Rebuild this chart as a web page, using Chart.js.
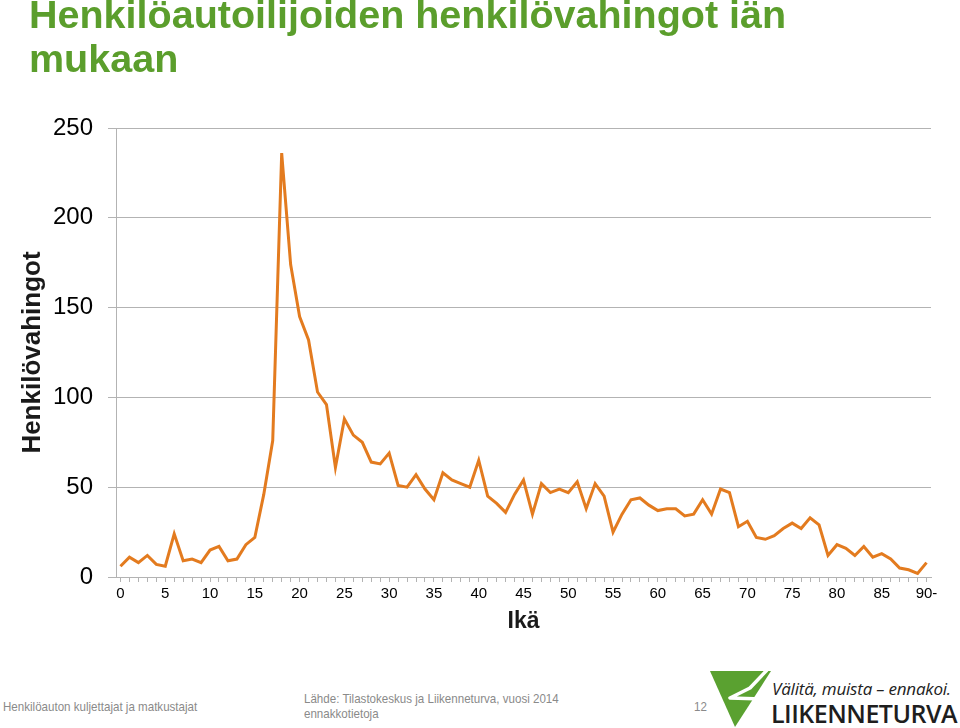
<!DOCTYPE html>
<html lang="fi">
  <head>
    <meta charset="UTF-8" />
    <title>Henkilöautoilijoiden henkilövahingot iän mukaan</title>
    <style>
      body {
        margin: 0;
        width: 960px;
        height: 728px;
        position: relative;
        overflow: hidden;
        background: #fff;
        font-family: Arial, "Liberation Sans", sans-serif;
      }
      h1 {
        position: absolute;
        left: 29px;
        top: -8px;
        width: 820px;
        margin: 0;
        font-size: 39.5px;
        line-height: 44px;
        font-weight: bold;
        color: #5b9e2c;
        z-index: 2;
      }
      #chartBox {
        position: absolute;
        left: 0;
        top: 0;
      }
      .foot {
        position: absolute;
        color: #8a8a8a;
        font-size: 13px;
        line-height: 15px;
        white-space: nowrap;
        transform: scaleX(0.89);
        transform-origin: left top;
      }
      .slogan {
        position: absolute;
        left: 772px;
        top: 677px;
        font-family: "Open Sans", Arial, sans-serif;
        font-style: italic;
        font-size: 17px;
        letter-spacing: -0.2px;
        color: #222;
        white-space: nowrap;
      }
      .brand {
        position: absolute;
        left: 771px;
        top: 696px;
        font-family: "Open Sans", Arial, sans-serif;
        font-size: 25px;
        font-weight: 600;
        letter-spacing: -0.5px;
        color: #1e1e1e;
        white-space: nowrap;
      }
    </style>
  </head>
  <body>
    <h1>Henkilöautoilijoiden henkilövahingot iän mukaan</h1>
    <div id="chartBox">
      <canvas id="injuryChart" width="960" height="660"></canvas>
    </div>

    <div class="foot" style="left: 3px; top: 699px">Henkilöauton kuljettajat ja matkustajat</div>
    <div class="foot" style="left: 304px; top: 691px">Lähde: Tilastokeskus ja Liikenneturva, vuosi 2014<br />ennakkotietoja</div>
    <div class="foot" style="left: 694px; top: 699px">12</div>

    <svg style="position: absolute; left: 708px; top: 670px" width="66" height="58">
      <polygon points="2,1 63,1 27,57" fill="#5aa130" />
      <polyline points="59,0 42,18 22,28 54,29" fill="none" stroke="#fff" stroke-width="3.5" stroke-linejoin="round" />
    </svg>
    <div class="slogan">Välitä, muista – ennakoi.</div>
    <div class="brand">LIIKENNETURVA</div>

    <script src="https://cdn.jsdelivr.net/npm/chart.js"></script>
    <script>
      const ages = [];
      for (let a = 0; a < 90; a++) ages.push(String(a));
      ages.push("90-");

      const injuries = [
        6, 11, 8, 12, 7, 6, 24, 9, 10, 8,
        15, 17, 9, 10, 18, 22, 46, 76, 236, 174,
        145, 132, 103, 96, 61, 88, 79, 75, 64, 63,
        69, 51, 50, 57, 49, 43, 58, 54, 52, 50,
        65, 45, 41, 36, 46, 54, 35, 52, 47, 49,
        47, 53, 38, 52, 45, 25, 35, 43, 44, 40,
        37, 38, 38, 34, 35, 43, 35, 49, 47, 28,
        31, 22, 21, 23, 27, 30, 27, 33, 29, 12,
        18, 16, 12, 17, 11, 13, 10, 5, 4, 2,
        8,
      ];

      const yMin = 0;
      const yMax = 250;
      const yStep = 50;
      const labelEvery = 5;

      const gridColor = "#b3b3b3";

      const ctx = document.getElementById("injuryChart").getContext("2d");
      new Chart(ctx, {
        type: "line",
        data: {
          labels: ages,
          datasets: [
            {
              label: "Henkilövahingot",
              data: injuries,
              borderColor: "#e37b1f",
              borderWidth: 3,
              pointRadius: 0,
              tension: 0,
              fill: false,
            },
          ],
        },
        options: {
          responsive: false,
          animation: false,
          layout: {
            padding: { top: 128, right: 29, bottom: 23, left: 0 },
          },
          plugins: {
            legend: { display: false },
            tooltip: { enabled: false },
          },
          scales: {
            x: {
              offset: true,
              grid: {
                drawOnChartArea: false,
                drawTicks: true,
                tickLength: 5,
                color: gridColor,
              },
              border: { color: gridColor },
              ticks: {
                autoSkip: false,
                maxRotation: 0,
                padding: 3,
                color: "#000",
                font: { size: 15, family: "Arial, 'Liberation Sans', sans-serif" },
                callback: function (value, index) {
                  return index % labelEvery === 0 ? ages[index] : "";
                },
              },
              title: {
                display: true,
                text: "Ikä",
                color: "#1a1a1a",
                padding: { top: 0, bottom: 2 },
                font: { size: 23, weight: "bold", family: "Arial, 'Liberation Sans', sans-serif" },
              },
              afterFit: function (scale) {
                scale.height = 60;
              },
            },
            y: {
              min: yMin,
              max: yMax,
              grid: {
                color: gridColor,
                tickLength: 8,
              },
              border: { color: gridColor },
              ticks: {
                stepSize: yStep,
                padding: 15,
                color: "#000",
                font: { size: 24, family: "Arial, 'Liberation Sans', sans-serif" },
              },
              title: {
                display: true,
                text: "Henkilövahingot",
                color: "#1a1a1a",
                padding: { top: 17, bottom: 0 },
                font: { size: 26, weight: "bold", family: "Arial, 'Liberation Sans', sans-serif" },
              },
              afterFit: function (scale) {
                scale.width = 116;
              },
            },
          },
        },
      });
    </script>
  </body>
</html>
